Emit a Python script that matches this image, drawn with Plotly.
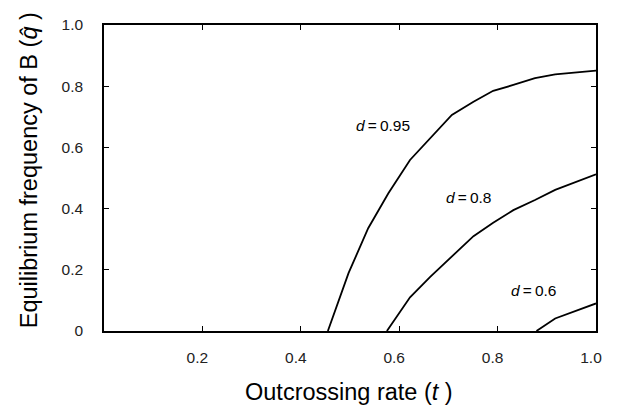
import plotly.graph_objects as go

# Data
t_095 = [0.455, 0.497, 0.537, 0.578, 0.622, 0.663, 0.707, 0.751, 0.791, 0.832, 0.876, 0.917, 1.0]
q_095 = [0.0, 0.189, 0.336, 0.45, 0.559, 0.63, 0.706, 0.749, 0.785, 0.804, 0.826, 0.839, 0.851]

t_08 = [0.575, 0.622, 0.663, 0.71, 0.751, 0.791, 0.832, 0.876, 0.917, 1.0]
q_08 = [0.0, 0.11, 0.177, 0.248, 0.31, 0.354, 0.395, 0.428, 0.461, 0.512]

t_06 = [0.879, 0.917, 1.0]
q_06 = [0.0, 0.041, 0.09]

labels = ["0.95", "0.8", "0.6"]
label_t = [0.567, 0.74, 0.872]
label_q = [0.673, 0.435, 0.134]

x_ticks = [0.2, 0.4, 0.6, 0.8, 1.0]
x_ticktext = ["0.2", "0.4", "0.6", "0.8", "1.0"]
y_ticks = [0, 0.2, 0.4, 0.6, 0.8, 1.0]
y_ticktext = ["0", "0.2", "0.4", "0.6", "0.8", "1.0"]

x_title = "Outcrossing rate (<i>t</i> )"
y_title = "Equilibrium frequency of B (<i>q\u0302</i> )"

FONT = "Liberation Sans, Arial, Helvetica"

fig = go.Figure()
for tx, qy in [(t_095, q_095), (t_08, q_08), (t_06, q_06)]:
    fig.add_trace(go.Scatter(x=tx, y=qy, mode="lines",
                             line=dict(color="black", width=1.8),
                             showlegend=False, hoverinfo="skip", cliponaxis=False))

for lab, lx, ly in zip(labels, label_t, label_q):
    fig.add_annotation(x=lx, y=ly, text="<i>d</i>\u2009=\u2009" + lab, showarrow=False,
                       font=dict(family=FONT, size=15.5, color="black"))

# Axis titles as annotations for precise placement
fig.add_annotation(xref="paper", yref="paper", x=0.498, y=-0.198, text=x_title,
                   showarrow=False, xanchor="center", yanchor="middle",
                   font=dict(family=FONT, size=23.5, color="black"))
fig.add_annotation(xref="paper", yref="paper", x=-0.152, y=0.526, text=y_title,
                   showarrow=False, xanchor="center", yanchor="middle", textangle=-90,
                   font=dict(family=FONT, size=23.5, color="black"))

axis_common = dict(showline=True, linecolor="black", linewidth=1.5, mirror="ticks",
                   ticks="inside", ticklen=5, tickcolor="black", tickwidth=1,
                   showgrid=False, zeroline=False,
                   tickfont=dict(family=FONT, size=15.5, color="#222"))

fig.update_xaxes(range=[0, 1], tickvals=x_ticks, ticktext=x_ticktext,
                 ticklabelstandoff=12, ticklabelshift=-5, **axis_common)
fig.update_yaxes(range=[0, 1], tickvals=y_ticks, ticktext=y_ticktext,
                 ticklabelstandoff=16, **axis_common)

fig.update_layout(width=618, height=409, plot_bgcolor="white", paper_bgcolor="white",
                  margin=dict(l=104, r=22, t=25, b=78, autoexpand=False))

fig.write_html("out.html", config={"displayModeBar": False},
               post_script="document.body.style.margin='0';document.body.style.padding='0';")
